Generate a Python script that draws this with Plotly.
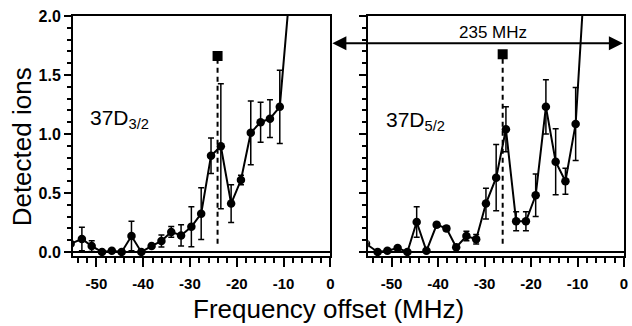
import plotly.graph_objects as go

# ---- data: 37D3/2 (left panel) ----
freq_left = [-55.5, -53.1, -51.0, -48.8, -46.7, -44.6, -42.5, -40.4, -38.2, -36.1, -34.0,
             -31.9, -29.7, -27.6, -25.5, -23.4, -21.2, -19.1, -17.0, -14.9, -12.9, -10.8, -8.7]
ions_left = [0.07, 0.11, 0.05, 0.0, 0.01, 0.0, 0.135, 0.0, 0.05, 0.093, 0.17,
             0.14, 0.214, 0.325, 0.816, 0.896, 0.41, 0.61, 1.01, 1.10, 1.13, 1.23, 2.2]
err_left = [0.0, 0.10, 0.045, 0.0, 0.0, 0.0, 0.125, 0.0, 0.0, 0.05, 0.045,
            0.09, 0.17, 0.22, 0.15, 0.53, 0.16, 0.04, 0.27, 0.17, 0.16, 0.31, 0.0]
peak_left_x = -24.1
peak_left_y = 1.66

# ---- data: 37D5/2 (right panel) ----
freq_right = [-55.5, -53.0, -50.9, -48.7, -46.6, -44.6, -42.5, -40.3, -38.2, -36.1, -33.9,
              -31.8, -29.7, -27.5, -25.4, -23.2, -21.1, -19.0, -16.8, -14.7, -12.6, -10.4, -8.3]
ions_right = [0.07, 0.0, 0.01, 0.034, 0.0, 0.254, 0.01, 0.23, 0.20, 0.04, 0.135,
              0.108, 0.41, 0.63, 1.04, 0.26, 0.26, 0.48, 1.23, 0.765, 0.60, 1.085, 2.44]
err_right = [0.0, 0.0, 0.0, 0.0, 0.0, 0.13, 0.0, 0.02, 0.02, 0.0, 0.04,
             0.04, 0.13, 0.28, 0.19, 0.08, 0.08, 0.18, 0.23, 0.28, 0.11, 0.31, 0.0]
peak_right_x = -26.1
peak_right_y = 1.675

x_ticks = [-50, -40, -30, -20, -10, 0]
y_ticks = [0.0, 0.5, 1.0, 1.5, 2.0]
label_left = "37D<sub>3/2</sub>"
label_right = "37D<sub>5/2</sub>"
span_label = "235 MHz"

FONT = "Arial, Liberation Sans, sans-serif"

fig = go.Figure()


def add_panel(fx, fy, fe, px, py, xa, ya):
    fig.add_trace(go.Scatter(
        x=[px, px], y=[0.07, py], mode="lines",
        line=dict(color="black", width=2, dash="5px,4px"),
        xaxis=xa, yaxis=ya, showlegend=False, hoverinfo="skip"))
    fig.add_trace(go.Scatter(
        x=[px], y=[py], mode="markers",
        marker=dict(symbol="square", size=10, color="black"),
        xaxis=xa, yaxis=ya, showlegend=False))
    fig.add_trace(go.Scatter(
        x=fx, y=fy, mode="lines+markers",
        line=dict(color="black", width=2),
        marker=dict(symbol="circle", size=8.5, color="black"),
        error_y=dict(type="data", array=fe, visible=True, color="black",
                     thickness=1.5, width=3),
        xaxis=xa, yaxis=ya, showlegend=False))


add_panel(freq_left, ions_left, err_left, peak_left_x, peak_left_y, "x", "y")
add_panel(freq_right, ions_right, err_right, peak_right_x, peak_right_y, "x2", "y2")

xax = dict(range=[-55, 0], tickmode="array", tickvals=x_ticks,
           ticktext=["<b>%d</b>" % v for v in x_ticks], ticks="outside", ticklen=9,
           tickwidth=2, tickcolor="black",
           minor=dict(dtick=2, tick0=0, ticks="outside", ticklen=5, tickwidth=1.5,
                      tickcolor="black"),
           showline=True, linecolor="black", linewidth=2, mirror=True,
           showgrid=False, zeroline=False,
           tickfont=dict(family=FONT, size=15, color="black"),
           ticklabelstandoff=4)
yax = dict(range=[-0.034, 2.0], tickmode="array", tickvals=y_ticks,
           ticktext=["<b>%.1f</b>" % v for v in y_ticks], ticks="outside", ticklen=7,
           tickwidth=2, tickcolor="black",
           minor=dict(dtick=0.1, tick0=0, ticks="outside", ticklen=4, tickwidth=1.5,
                      tickcolor="black"),
           showline=True, linecolor="black", linewidth=2, mirror=True,
           showgrid=False, zeroline=True, zerolinecolor="black", zerolinewidth=2,
           tickfont=dict(family=FONT, size=16, color="black"))

fig.update_layout(
    width=632, height=326,
    margin=dict(l=73, r=4, t=16, b=70),
    paper_bgcolor="white", plot_bgcolor="white",
    xaxis=dict(domain=[0, 0.467], anchor="y", **xax),
    xaxis2=dict(domain=[0.536, 1.0], anchor="y2", **xax),
    yaxis=dict(domain=[0, 1], anchor="x", **yax),
    yaxis2=dict(domain=[0, 1], anchor="x2", showticklabels=False,
                **{k: v for k, v in yax.items() if k != "tickfont"}),
    font=dict(family=FONT, color="black"),
)

annotations = [
    dict(text=label_left, x=-51.9, y=1.13, xref="x", yref="y", xanchor="left",
         yanchor="middle", showarrow=False, font=dict(family=FONT, size=21)),
    dict(text=label_right, x=-51.6, y=1.11, xref="x2", yref="y2", xanchor="left",
         yanchor="middle", showarrow=False, font=dict(family=FONT, size=21)),
    dict(text="", x=0.998, y=0.886, xref="paper", yref="paper", ax=-292, ay=0,
         showarrow=True, arrowside="end+start", arrowhead=2, startarrowhead=2,
         arrowsize=1.4, startarrowsize=1.4, arrowwidth=2, arrowcolor="black"),
    dict(text=span_label, x=0.762, y=0.930, xref="paper", yref="paper",
         xanchor="center", yanchor="middle", showarrow=False,
         font=dict(family=FONT, size=17)),
    dict(text="Frequency offset (MHz)", x=0.463, y=-0.221, xref="paper", yref="paper",
         xanchor="center", yanchor="middle", showarrow=False,
         font=dict(family=FONT, size=26)),
    dict(text="Detected ions", x=-0.092, y=0.454, xref="paper", yref="paper",
         xanchor="center", yanchor="middle", showarrow=False, textangle=-90,
         font=dict(family=FONT, size=26)),
]
fig.update_layout(annotations=annotations)

fig.write_html("out.html")
